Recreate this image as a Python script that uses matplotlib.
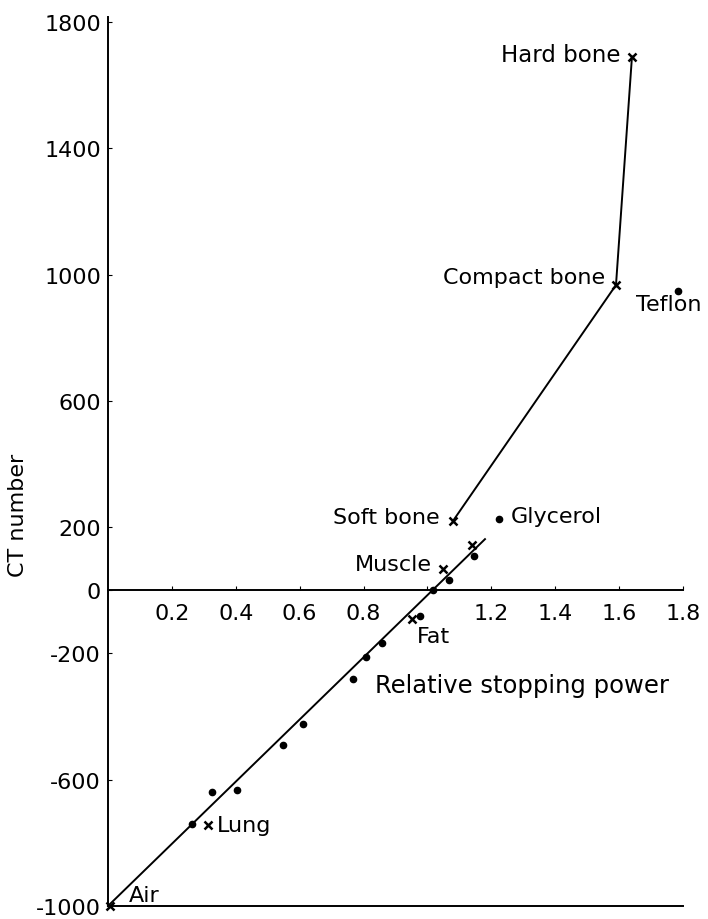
import matplotlib
matplotlib.use("Agg")
import matplotlib.pyplot as plt

# CT number vs relative stopping power for tissues and phantom materials
fit_x = [0.0, 1.18]          # soft-tissue calibration line
fit_y = [-1000, 162]
bone_x = [1.08, 1.59, 1.64]  # soft bone -> compact bone -> hard bone
bone_y = [220, 967, 1690]

# tissues (crosses)
cross_x = [0.005, 0.313, 0.95, 1.05, 1.139, 1.08, 1.59, 1.64]
cross_y = [-1000, -744, -92, 67, 143, 220, 967, 1690]

# other materials (dots)
dot_x = [0.263, 0.325, 0.404, 0.548, 0.61, 0.767, 0.808, 0.858,
         0.977, 1.018, 1.068, 1.146, 1.224, 1.784]
dot_y = [-741, -640, -634, -491, -424, -282, -212, -168,
         -82, 0, 32, 108, 225, 947]

y_ticks = [-1000, -600, -200, 0, 200, 600, 1000, 1400, 1800]
x_ticks = [0.2, 0.4, 0.6, 0.8, 1.0, 1.2, 1.4, 1.6, 1.8]
x_labels = ["0.2", "0.4", "0.6", "0.8", "", "1.2", "1.4", "1.6", "1.8"]

# (text, x, y, ha, size)
labels = [
    ("Hard bone", 1.603, 1698, "right", 16.5),
    ("Compact bone", 1.556, 992, "right", 16),
    ("Teflon", 1.653, 907, "left", 16),
    ("Soft bone", 1.039, 232, "right", 16),
    ("Glycerol", 1.262, 235, "left", 16),
    ("Muscle", 1.014, 83, "right", 16),
    ("Fat", 0.967, -145, "left", 16),
    ("Relative stopping power", 0.836, -300, "left", 17.5),
    ("Lung", 0.341, -743, "left", 16),
    ("Air", 0.066, -965, "left", 16),
]

FS = 16
plt.rcParams["font.family"] = "DejaVu Sans"

fig = plt.figure(figsize=(7.08, 9.20), dpi=100)
ax = fig.add_axes([0, 0, 1, 1])
ax.set_xlim(-0.338, 1.878)
ax.set_ylim(-1041.2, 1872.9)
ax.patch.set_alpha(0)

lw = 1.4
ax.plot(fit_x, fit_y, color="black", lw=lw)
ax.plot(bone_x, bone_y, color="black", lw=lw)
ax.plot(cross_x, cross_y, "x", color="black", ms=6, mew=1.8)
ax.plot(dot_x, dot_y, "o", color="black", ms=4.5)

for text, x, y, ha, size in labels:
    ax.text(x, y, text, ha=ha, va="center", fontsize=size)

# axes: left spine at x=0, x-axis through CT=0, baseline at CT=-1000
for s in ["left", "bottom", "top"]:
    ax.spines[s].set_linewidth(1.4)
ax.spines["right"].set_visible(False)
ax.spines["left"].set_position(("data", 0))
ax.spines["left"].set_bounds(-1000, 1815)
ax.spines["bottom"].set_position(("data", 0))
ax.spines["bottom"].set_bounds(0, 1.8)
ax.spines["top"].set_position(("data", -1000))
ax.spines["top"].set_bounds(0, 1.8)

ax.set_yticks(y_ticks)
ax.set_yticklabels([str(v) for v in y_ticks])
ax.set_xticks(x_ticks)
ax.set_xticklabels(x_labels)
ax.tick_params(axis="y", direction="in", length=3, pad=5, labelsize=FS)
ax.tick_params(axis="x", direction="in", length=3, pad=9, labelsize=FS,
               top=False)

fig.text(18 / 708, 1 - 515 / 920, "CT number", rotation=90,
         ha="center", va="center", fontsize=FS)

fig.savefig("out.png", dpi=100)
